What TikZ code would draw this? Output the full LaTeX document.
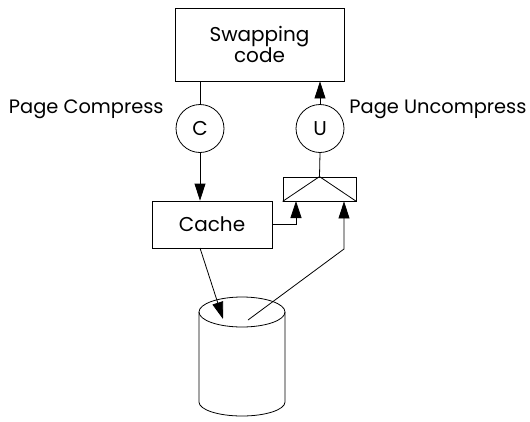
\documentclass[tikz,border=0pt]{standalone}
\usepackage{fontspec}
\setmainfont{Poppins}
\usetikzlibrary{arrows.meta}
\tikzset{
  box/.style={draw,line width=.8pt,inner sep=0pt,align=center,font=\fontsize{20}{21}\selectfont},
  op/.style={draw,circle,line width=.8pt,minimum size=48pt,inner sep=0pt,font=\fontsize{20}{21}\selectfont},
  lbl/.style={font=\fontsize{19.4}{21}\selectfont,inner sep=0pt},
  flow/.style={line width=.8pt,-{Triangle[length=17pt,width=11pt]}}
}
\begin{document}
\begin{tikzpicture}[x=1pt,y=-1pt,line width=.8pt]
\useasboundingbox (0,0) rectangle (530,421);
\node[box,minimum width=169pt,minimum height=73pt] (swap) at (259.5,44.5) {Swapping\\code};
\node[op] (C) at (200,128.5) {C};
\node[op] (U) at (320,128.5) {U};
\node[box,minimum width=120pt,minimum height=47pt] (cache) at (212,224.5) {Cache};
\node[box,minimum width=73pt,minimum height=24pt] (merge) at (319.5,189) {};
\draw (merge.south west) -- (merge.north) -- (merge.south east);
\node[lbl,anchor=base east] at (164,113) {Page Compress};
\node[lbl,anchor=base west] at (349,113) {Page Uncompress};
% disk
\draw (199,312) -- (199,402) arc[start angle=180,end angle=360,x radius=43pt,y radius=14pt] -- (285,312);
\draw (242,312) ellipse [x radius=43pt,y radius=15pt];
\coordinate (diskin) at (223,319);
\coordinate (diskout) at (248,320);
\coordinate (bend) at (344,249);
\coordinate (cacheout) at (200,248);
\draw (C.north |- swap.south) -- (C.north);
\draw[flow] (C.south) -- (C.south |- cache.north);
\draw[flow] (U.north) -- (U.north |- swap.south);
\draw (U.south) -- (merge.north);
\draw[flow] (cache.east) -| (296,201);
\draw[flow] (cacheout) -- (diskin);
\draw[flow] (diskout) -- (bend) -- (bend |- merge.south);
\end{tikzpicture}
\end{document}
